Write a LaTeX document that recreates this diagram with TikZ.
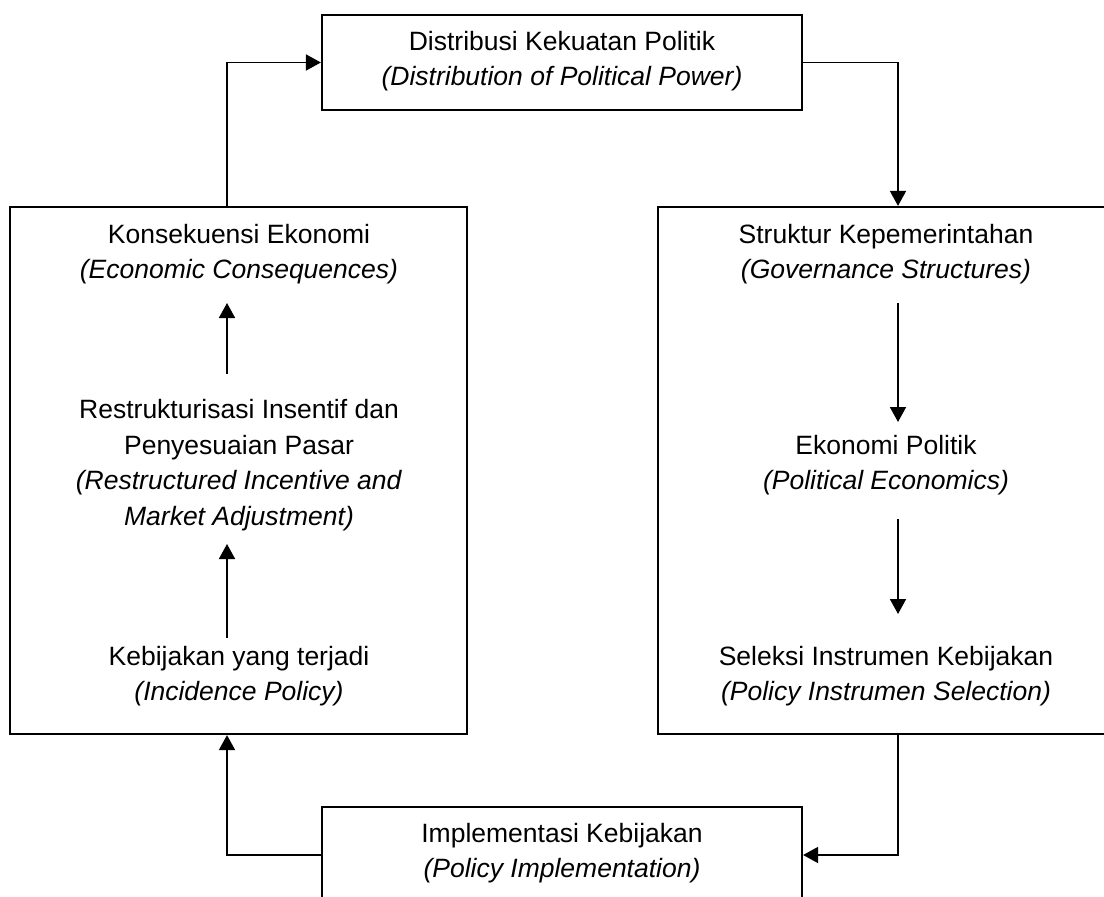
\documentclass[tikz,border=0pt]{standalone}
\usepackage{fontspec}
\setmainfont{Liberation Sans}
\usetikzlibrary{arrows.meta}
\begin{document}
\begin{tikzpicture}[x=1pt,y=-1pt,
  box/.style={draw, line width=2.2pt, inner sep=0pt},
  txt/.style={font=\fontsize{26.5}{35.5}\selectfont, align=center, inner sep=0pt},
  arr/.style={line width=1.7pt, -{Triangle[length=15pt,width=16pt]}}]
\useasboundingbox (0,0) rectangle (1104,897);
\clip (0,0) rectangle (1104,897);
\fill[white] (0,0) rectangle (1104,897);
% boxes
\node[box, minimum width=480pt, minimum height=95pt] (top) at (562,62.5) {};
\node[box, minimum width=457pt, minimum height=527pt] (lbox) at (238.5,470.5) {};
\node[box, minimum width=456pt, minimum height=527pt] (rbox) at (886,470.5) {};
\node[box, minimum width=480pt, minimum height=96pt] (bot) at (562,855) {};
% texts
\node[txt] (ttop) at (562,61) {Distribusi Kekuatan Politik\\\textit{(Distribution of Political Power)}};
\node[txt] (kons) at (239,254) {Konsekuensi Ekonomi\\\textit{(Economic Consequences)}};
\node[txt] (restr) at (239,465) {Restrukturisasi Insentif dan\\Penyesuaian Pasar\\\textit{(Restructured Incentive and}\\\textit{Market Adjustment)}};
\node[txt] (keb) at (239,676) {Kebijakan yang terjadi\\\textit{(Incidence Policy)}};
\node[txt] (struk) at (886,254) {Struktur Kepemerintahan\\\textit{(Governance Structures)}};
\node[txt] (ekon) at (886,465) {Ekonomi Politik\\\textit{(Political Economics)}};
\node[txt] (sel) at (886,676) {Seleksi Instrumen Kebijakan\\\textit{(Policy Instrumen Selection)}};
\node[txt] (tbot) at (562,853) {Implementasi Kebijakan\\\textit{(Policy Implementation)}};
% coordinates
\coordinate (lx) at (227,0);
\coordinate (rx) at (898,0);
\coordinate (la1) at (227,374); \coordinate (lb1) at (227,303);
\coordinate (la2) at (227,638); \coordinate (lb2) at (227,544);
\coordinate (ra1) at (898,303); \coordinate (rb1) at (898,422);
\coordinate (ra2) at (898,519); \coordinate (rb2) at (898,614);
% outer loop
\draw[arr] (lbox.north -| lx) |- (top.west);
\draw[arr] (top.east) -| (rbox.north -| rx);
\draw[arr] (rbox.south -| rx) |- (bot.east);
\draw[arr] (bot.west) -| (lbox.south -| lx);
% inner arrows
\draw[arr] (la1) -- (lb1);
\draw[arr] (la2) -- (lb2);
\draw[arr] (ra1) -- (rb1);
\draw[arr] (ra2) -- (rb2);
\end{tikzpicture}
\end{document}
